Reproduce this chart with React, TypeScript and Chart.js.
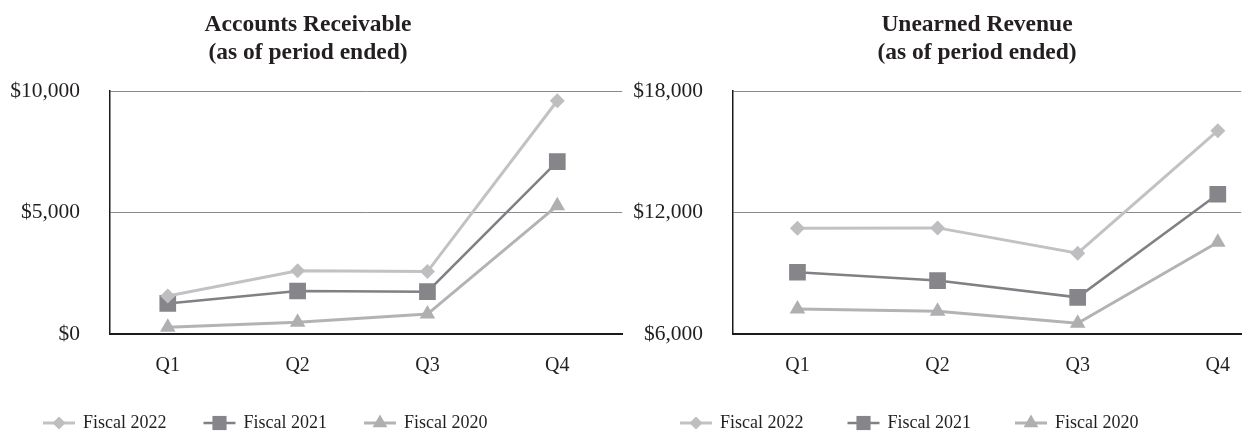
import React, { useEffect, useRef } from 'react';
import { Chart, registerables } from 'chart.js';
import { drawPoint } from 'chart.js/helpers';

Chart.register(...registerables);

const quarters = ['Q1', 'Q2', 'Q3', 'Q4'];
const seriesNames = ['Fiscal 2022', 'Fiscal 2021', 'Fiscal 2020'];

const arFiscal2022 = [1560, 2600, 2570, 9600];
const arFiscal2021 = [1260, 1770, 1740, 7090];
const arFiscal2020 = [280, 480, 820, 5280];
const arTicks = [0, 5000, 10000];

const urFiscal2022 = [11220, 11240, 9990, 16040];
const urFiscal2021 = [9050, 8640, 7810, 12900];
const urFiscal2020 = [7235, 7120, 6530, 10530];
const urTicks = [6000, 12000, 18000];

const FONT = "'Liberation Serif', 'Times New Roman', serif";
const TEXT = '#231f20';

const styles = [
  { fill: '#bebec1', line: '#c2c2c5', shape: 'rectRot', r: 7.5, lw: 3, lr: 6.5 },
  { fill: '#85858a', line: '#808085', shape: 'rect', r: 11.8, lw: 2.5, lr: 10 },
  { fill: '#afafb2', line: '#b3b3b6', shape: 'triangle', r: 9, lw: 3, lr: 8.5 },
];

const twoLineTitle = {
  id: 'twoLineTitle',
  afterDraw(chart: any, _args: any, opts: any) {
    const ctx = chart.ctx;
    ctx.save();
    ctx.font = `bold ${opts.size}px ${FONT}`;
    ctx.fillStyle = TEXT;
    ctx.textAlign = 'center';
    ctx.textBaseline = 'alphabetic';
    opts.lines.forEach((t: string, i: number) => {
      ctx.fillText(t, opts.x, opts.y0 + i * opts.gap);
    });
    ctx.restore();
  },
};

const lineLegend = {
  id: 'lineLegend',
  afterDraw(chart: any, _args: any, opts: any) {
    const ctx = chart.ctx;
    ctx.save();
    ctx.font = `${opts.fontSize}px ${FONT}`;
    ctx.textBaseline = 'middle';
    ctx.textAlign = 'left';
    let x = opts.x;
    const y = opts.y;
    chart.data.datasets.forEach((ds: any, i: number) => {
      const st = styles[i];
      ctx.strokeStyle = st.line;
      ctx.lineWidth = st.lw;
      ctx.beginPath();
      ctx.moveTo(x, y);
      ctx.lineTo(x + 32, y);
      ctx.stroke();
      ctx.fillStyle = st.fill;
      ctx.strokeStyle = st.fill;
      ctx.lineWidth = 0.01;
      drawPoint(ctx, { pointStyle: st.shape, radius: st.lr, borderWidth: 0, rotation: 0 } as any, x + 16, y);
      ctx.fillStyle = TEXT;
      ctx.fillText(ds.label, x + 40, y);
      x += 40 + ctx.measureText(ds.label).width + opts.gap;
    });
    ctx.restore();
  },
};

function makeConfig(p: {
  title: string[];
  titleX: number;
  series: number[][];
  ticks: number[];
  xMin: number;
  xMax: number;
  axisWidth: number;
  padRight: number;
  legendX: number;
  legendGap: number;
}): any {
  return {
    type: 'line',
    data: {
      datasets: p.series.map((vals, i) => ({
        label: seriesNames[i],
        data: vals.map((v, j) => ({ x: j, y: v })),
        borderColor: styles[i].line,
        backgroundColor: styles[i].fill,
        borderWidth: styles[i].lw,
        pointStyle: styles[i].shape,
        pointRadius: styles[i].r,
        pointHoverRadius: styles[i].r,
        pointBackgroundColor: styles[i].fill,
        pointBorderColor: styles[i].fill,
        pointBorderWidth: 0,
        tension: 0,
        fill: false,
      })),
    },
    options: {
      responsive: false,
      animation: false,
      devicePixelRatio: 1,
      layout: { padding: { left: 0, right: p.padRight, top: 91, bottom: 0 } },
      plugins: {
        legend: { display: false },
        tooltip: { enabled: false },
        title: { display: false },
        twoLineTitle: { lines: p.title, x: p.titleX, y0: 31, gap: 28, size: 23.5 },
        lineLegend: { x: p.legendX, y: 423, fontSize: 18, gap: p.legendGap },
      },
      scales: {
        x: {
          type: 'linear',
          min: p.xMin,
          max: p.xMax,
          grid: { display: false, drawTicks: false },
          border: { display: true, color: '#1a1a1a', width: 2 },
          afterBuildTicks: (s: any) => {
            s.ticks = quarters.map((_, i) => ({ value: i }));
          },
          afterFit: (s: any) => {
            s.height = 101;
          },
          ticks: {
            color: TEXT,
            font: { family: FONT, size: 20 },
            padding: 20,
            maxRotation: 0,
            autoSkip: false,
            callback: (v: number) => quarters[v] ?? '',
          },
        },
        y: {
          type: 'linear',
          min: p.ticks[0],
          max: p.ticks[p.ticks.length - 1],
          grid: { color: '#8a8a8a', lineWidth: 1, drawTicks: false },
          border: { display: true, color: '#1a1a1a', width: 1.5 },
          afterBuildTicks: (s: any) => {
            s.ticks = p.ticks.map((v) => ({ value: v }));
          },
          afterFit: (s: any) => {
            s.width = p.axisWidth;
          },
          ticks: {
            color: TEXT,
            font: { family: FONT, size: 21.5 },
            padding: 30,
            callback: (v: number) => '$' + v.toLocaleString('en-US'),
          },
        },
      },
    },
    plugins: [twoLineTitle, lineLegend],
  };
}

export default function App() {
  const leftRef = useRef<HTMLCanvasElement>(null);
  const rightRef = useRef<HTMLCanvasElement>(null);

  useEffect(() => {
    const a = new Chart(
      leftRef.current!,
      makeConfig({
        title: ['Accounts Receivable', '(as of period ended)'],
        titleX: 308,
        series: [arFiscal2022, arFiscal2021, arFiscal2020],
        ticks: arTicks,
        xMin: -0.445,
        xMax: 3.5,
        axisWidth: 110,
        padRight: 1,
        legendX: 43,
        legendGap: 37,
      })
    );
    const b = new Chart(
      rightRef.current!,
      makeConfig({
        title: ['Unearned Revenue', '(as of period ended)'],
        titleX: 343,
        series: [urFiscal2022, urFiscal2021, urFiscal2020],
        ticks: urTicks,
        xMin: -0.46,
        xMax: 3.167,
        axisWidth: 99,
        padRight: 0,
        legendX: 46,
        legendGap: 44,
      })
    );
    return () => {
      a.destroy();
      b.destroy();
    };
  }, []);

  return (
    <div style={{ position: 'absolute', left: 0, top: 0, width: 1253, height: 435, background: '#fff', overflow: 'hidden' }}>
      <canvas ref={leftRef} width={634} height={435} style={{ position: 'absolute', left: 0, top: 0, width: 634, height: 435 }} />
      <canvas ref={rightRef} width={619} height={435} style={{ position: 'absolute', left: 634, top: 0, width: 619, height: 435 }} />
    </div>
  );
}
